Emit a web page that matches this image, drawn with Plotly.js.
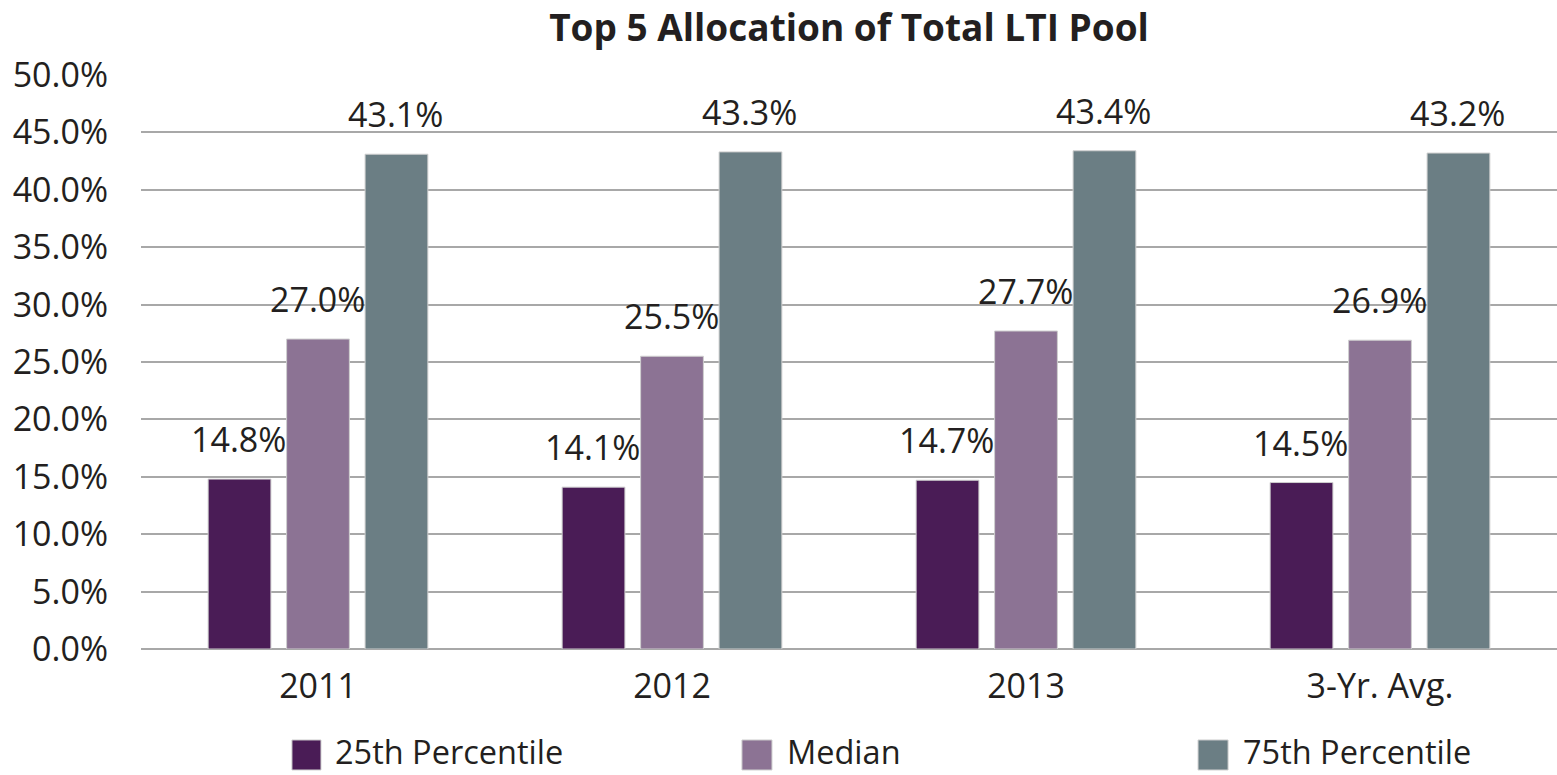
<!DOCTYPE html>
<html>
<head>
<meta charset="utf-8">
<script src="https://cdn.plot.ly/plotly-3.0.1.min.js"></script>
<style>html,body{margin:0;padding:0;background:#fff;}#chart{width:1557px;height:775px;}</style>
</head>
<body>
<div id="chart"></div>
<script>
const categories = ["2011", "2012", "2013", "3-Yr. Avg."];
const seriesNames = ["25th Percentile", "Median", "75th Percentile"];
const p25 = [14.8, 14.1, 14.7, 14.5];
const median = [27.0, 25.5, 27.7, 26.9];
const p75 = [43.1, 43.3, 43.4, 43.2];
const yTickVals = [0, 5, 10, 15, 20, 25, 30, 35, 40, 45, 50];
const yTickText = ["0.0%", "5.0%", "10.0%", "15.0%", "20.0%", "25.0%", "30.0%", "35.0%", "40.0%", "45.0%", "50.0%"];

const seriesValues = [p25, median, p75];
const colors = ["#4a1c56", "#8c7394", "#6b7e84"];
const FONT = "Open Sans, sans-serif";
const TXT = "#231f20";
const FS = 34;

const traces = seriesValues.map((vals, i) => ({
  type: "bar",
  name: seriesNames[i],
  x: categories,
  y: vals,
  marker: {color: colors[i], line: {color: "#cfcfcf", width: 1}},
  showlegend: false,
  hoverinfo: "skip"
}));

const slotPx = 78.5;
const annotations = [];
seriesValues.forEach((vals, i) => {
  vals.forEach((v, j) => {
    annotations.push({
      x: j, y: v, xref: "x", yref: "y",
      text: v.toFixed(1) + "%",
      showarrow: false, yanchor: "bottom", xanchor: "center",
      xshift: (i - 1) * slotPx - 1, yshift: 15,
      font: {family: FONT, size: FS, color: TXT}
    });
  });
});

// custom legend (paper coordinates)
const legendPos = [{x0: 0.1066, x1: 0.1271, tx: 0.1360}, {x0: 0.4244, x1: 0.4456, tx: 0.4552}, {x0: 0.7465, x1: 0.7677, tx: 0.7772}];
const shapes = [];
seriesNames.forEach((n, i) => {
  shapes.push({type: "rect", xref: "paper", yref: "paper", x0: legendPos[i].x0, x1: legendPos[i].x1, y0: -0.2108, y1: -0.1585,
    fillcolor: colors[i], line: {color: "#cfcfcf", width: 1}});
  annotations.push({xref: "paper", yref: "paper", x: legendPos[i].tx, y: -0.1794, text: n, showarrow: false,
    xanchor: "left", yanchor: "middle", borderpad: 0,
    font: {family: FONT, size: 32.5, color: TXT}});
});

const layout = {
  width: 1557, height: 775,
  margin: {l: 141, r: 0, t: 75, b: 126, pad: 0},
  paper_bgcolor: "#fff", plot_bgcolor: "#fff",
  title: {text: "<b>Top 5 Allocation of Total LTI Pool</b>", x: 0.5, xref: "paper", y: 0.964, yref: "container", yanchor: "middle",
    font: {family: FONT, size: 37, color: TXT}},
  barmode: "group", bargap: 0.335, bargroupgap: 0.2,
  xaxis: {type: "category", range: [-0.5, 3.5], showgrid: false, showline: false, zeroline: false, ticks: "",
    tickfont: {family: FONT, size: FS, color: TXT}, ticklabelstandoff: 14},
  yaxis: {range: [0, 50], tickvals: yTickVals, ticktext: yTickText, showgrid: true, gridcolor: "#a8a8a8", gridwidth: 2,
    zeroline: true, zerolinecolor: "#a8a8a8", zerolinewidth: 2, showline: false, ticks: "",
    tickfont: {family: FONT, size: FS, color: TXT}, ticklabelstandoff: 32},
  shapes: shapes,
  annotations: annotations,
  showlegend: false
};

Plotly.newPlot("chart", traces, layout, {displayModeBar: false, staticPlot: true});
</script>
</body>
</html>
